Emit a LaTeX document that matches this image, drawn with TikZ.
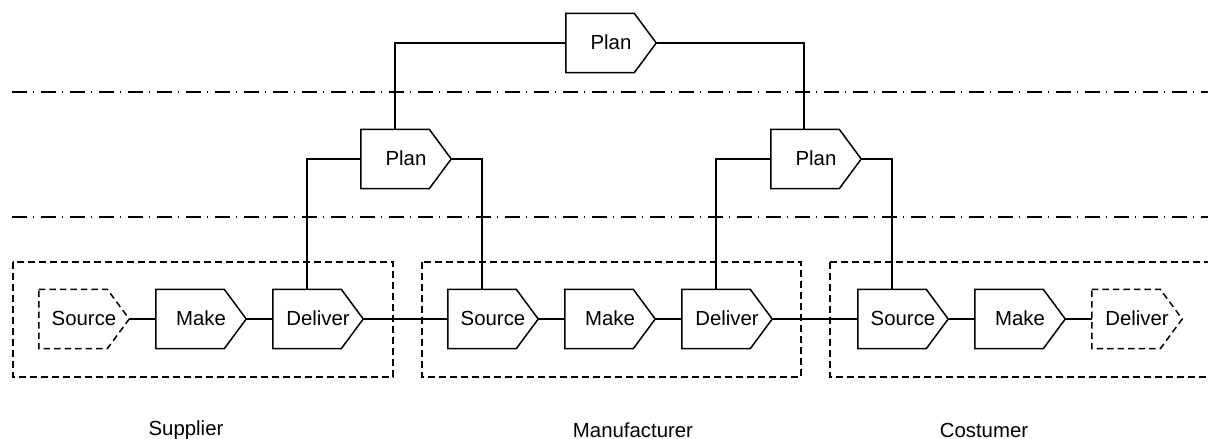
\documentclass[tikz,border=0pt]{standalone}
\usepackage{fontspec}
\setmainfont{Liberation Sans}
\usetikzlibrary{calc}
\begin{document}
\begin{tikzpicture}[x=0.02cm,y=-0.02cm,line width=0.85pt,font=\fontsize{11.6}{13}\selectfont]
\tikzset{
  proc/.style={shape=rectangle,minimum width=1.78cm,minimum height=1.16cm,inner sep=0pt,text height=1.6ex,text depth=0.1ex},
  solid line/.style={solid},
  ghost line/.style={dash pattern=on 0.13cm off 0.08cm},
  tier/.style={dash pattern=on 0.3cm off 0.12cm on 0.03cm off 0.13cm},
  party/.style={draw,dash pattern=on 0.14cm off 0.08cm}
}
\useasboundingbox (0,0) rectangle (1208,439);
\clip (0,0) rectangle (1208,439);
\draw[tier] (12,92) -- (1208,92);
\draw[tier] (12,217) -- (1208,217);
\draw[party] (13,262) rectangle (393,377);
\draw[party] (422,262) rectangle (801,377);
\draw[party] (830,262) rectangle (1230,377);
\node[proc] (plan) at (611,43) {Plan};
\node[proc] (plansm) at (406,159) {Plan};
\node[proc] (planmc) at (816,159) {Plan};
\node[proc] (srcs) at (84,319) {Source};
\node[proc] (mks) at (201,319) {Make};
\node[proc] (dlvs) at (318,319) {Deliver};
\node[proc] (srcm) at (493,319) {Source};
\node[proc] (mkm) at (610,319) {Make};
\node[proc] (dlvm) at (727,319) {Deliver};
\node[proc] (srcc) at (903,319) {Source};
\node[proc] (mkc) at (1020,319) {Make};
\node[proc] (dlvc) at (1137,319) {Deliver};
\node (sup) at (186,430) {Supplier};
\node (man) at (633,430) {Manufacturer};
\node (cos) at (984,430) {Costumer};
\foreach \n/\s in {plan/solid,plansm/solid,planmc/solid,srcs/ghost,mks/solid,dlvs/solid,srcm/solid,mkm/solid,dlvm/solid,srcc/solid,mkc/solid,dlvc/ghost}
  \draw[\s\space line,line join=miter] (\n.north west) -- ($(\n.north east)+(-22,0)$) -- (\n.east)
    -- ($(\n.south east)+(-22,0)$) -- (\n.south west) -- cycle;
\foreach \a/\b in {srcs/mks,mks/dlvs,dlvs/srcm,srcm/mkm,mkm/dlvm,dlvm/srcc,srcc/mkc,mkc/dlvc}
  \draw (\a.east) -- (\b.west);
\draw (plan.west) -| ($(plansm.north west)+(34,0)$);
\draw (plan.east) -| ($(planmc.north west)+(33,0)$);
\draw (plansm.west) -| ($(dlvs.north west)+(34,0)$);
\draw (plansm.east) -| ($(srcm.north west)+(34,0)$);
\draw (planmc.west) -| ($(dlvm.north west)+(34,0)$);
\draw (planmc.east) -| ($(srcc.north west)+(34,0)$);
\end{tikzpicture}
\end{document}
